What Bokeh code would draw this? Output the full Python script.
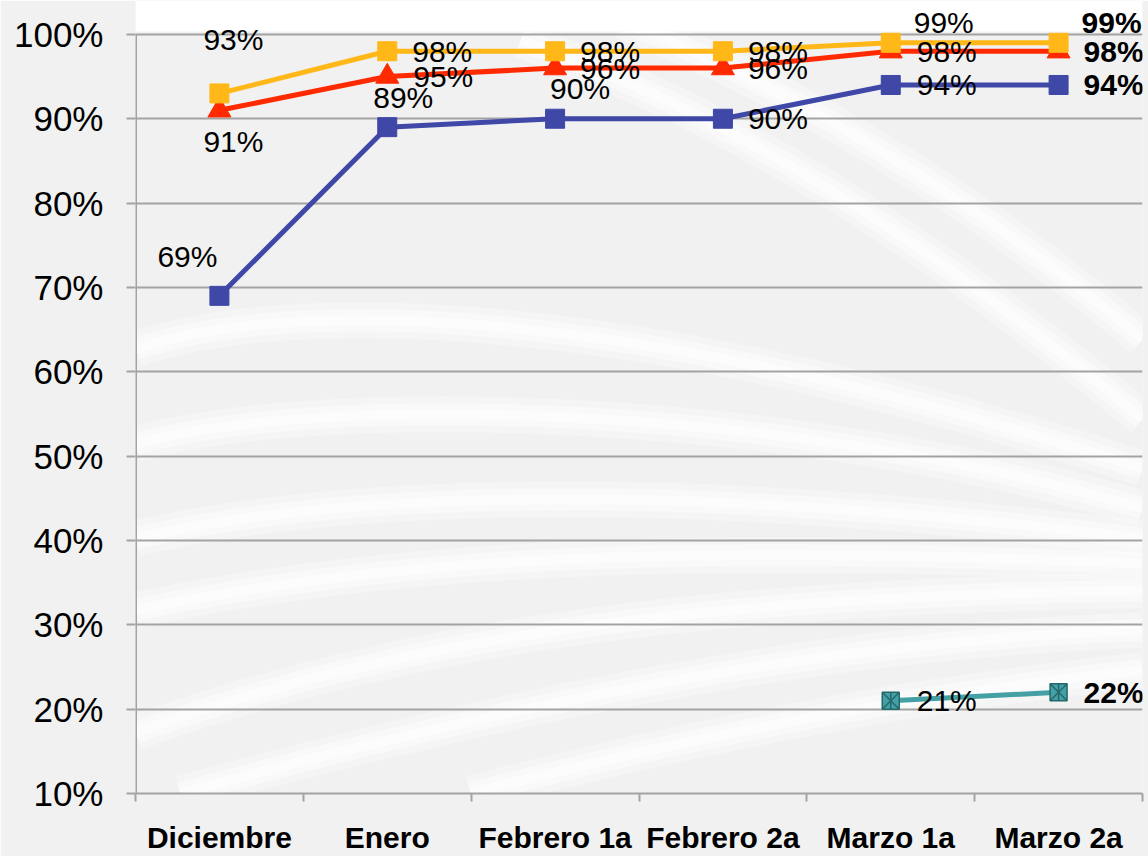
import numpy as np
from bokeh.plotting import figure
from bokeh.models import Range1d, FixedTicker, NumeralTickFormatter, ColumnDataSource, BoxAnnotation
from bokeh.core.properties import value
from bokeh.embed import file_html
from bokeh.resources import INLINE

# ---------------- data ----------------
categories = ["Diciembre", "Enero", "Febrero 1a", "Febrero 2a", "Marzo 1a", "Marzo 2a"]
serie_amarilla = [0.93, 0.98, 0.98, 0.98, 0.99, 0.99]
serie_roja = [0.91, 0.95, 0.96, 0.96, 0.98, 0.98]
serie_azul = [0.69, 0.89, 0.90, 0.90, 0.94, 0.94]
serie_verde = [None, None, None, None, 0.21, 0.22]
y_ticks = [0.1, 0.2, 0.3, 0.4, 0.5, 0.6, 0.7, 0.8, 0.9, 1.0]

# ---------------- styles ----------------
FONT = "Liberation Sans"
GRID = "#a3a3a3"
BG = "#f1f1f1"
C_AMA = "#FFB817"
C_ROJ = "#FF2A00"
C_AZU = "#3F47A7"
C_VER = "#45A0A5"

W, H = 1148, 856
FL, FR, FT, FB = 135, 1142, 0, 796          # frame edges in px
Y100 = 34                                     # px of the 100% gridline

# label placement per point: (dx px, dy px downwards, align)
lab_ama = [(14, -54, "center"), (25, 0, "left"), (25, 0, "left"), (25, 0, "left"), (23, -20, "left"), (23, -20, "left")]
lab_roj = [(14, 31, "center"), (26, 0, "left"), (25, 0, "left"), (25, 0, "left"), (26, 0, "left"), (25, 0, "left")]
lab_azu = [(-32, -39, "center"), (16, -30, "center"), (25, -30, "center"), (25, 0, "left"), (26, 0, "left"), (25, 0, "left")]
lab_ver = [None, None, None, None, (26, 0, "left"), (25, 0, "left")]

# decorative background swooshes (screen px: start, ctrl1, ctrl2, end)
swooshes = [
    ((135, 350), (280, 300), (620, 300), (1142, 470)),
    ((135, 445), (330, 392), (800, 408), (1142, 510)),
    ((135, 540), (400, 478), (800, 498), (1142, 540)),
    ((135, 612), (450, 545), (800, 552), (1142, 565)),
    ((135, 735), (450, 620), (800, 598), (1142, 592)),
    ((180, 796), (600, 680), (900, 640), (1142, 632)),
    ((470, 796), (780, 715), (1000, 688), (1142, 672)),
    ((520, 40), (750, 120), (950, 260), (1142, 420)),
    ((620, 20), (820, 100), (1000, 220), (1142, 340)),
]

n = len(categories)
xs = list(range(n))
y_per_px = (y_ticks[-1] - y_ticks[0]) / (FB - Y100)
y_top = y_ticks[-1] + (Y100 - FT) * y_per_px

p = figure(width=W, height=H, output_backend="svg", toolbar_location=None,
           x_range=Range1d(-0.5, n - 0.5),
           y_range=Range1d(y_ticks[0], y_top),
           min_border_left=FL, min_border_right=W - FR, min_border_top=FT, min_border_bottom=H - FB)
p.outline_line_color = None
p.background_fill_color = BG
p.border_fill_color = BG

def sx(px):
    return -0.5 + (px - FL) * n / (FR - FL)

def sy(py):
    return y_ticks[-1] - (py - Y100) * y_per_px

for (a, b, c, d) in swooshes:
    for lw, al in ((36, 0.28), (22, 0.4), (10, 0.5)):
        p.bezier(x0=[sx(a[0])], y0=[sy(a[1])], cx0=[sx(b[0])], cy0=[sy(b[1])],
                 cx1=[sx(c[0])], cy1=[sy(c[1])], x1=[sx(d[0])], y1=[sy(d[1])],
                 line_color="white", line_width=lw, line_alpha=al, level="image")

# white band at the top of the chart
p.add_layout(BoxAnnotation(bottom=y_ticks[-1] + 3 * y_per_px, fill_color="white", fill_alpha=1.0,
                           line_color=None, level="underlay"))

# y axis
p.yaxis.ticker = FixedTicker(ticks=y_ticks)
p.yaxis.formatter = NumeralTickFormatter(format="0%")
p.yaxis.axis_line_color = None
p.yaxis.major_tick_out = 9
p.yaxis.major_tick_in = 0
p.yaxis.major_tick_line_color = GRID
p.yaxis.major_tick_line_width = 2
p.yaxis.minor_tick_line_color = None
p.yaxis.major_label_text_font = FONT
p.yaxis.major_label_text_font_size = "35px"
p.yaxis.major_label_text_color = "black"
p.yaxis.major_label_standoff = 23

p.ygrid.ticker = FixedTicker(ticks=y_ticks)
p.ygrid.grid_line_color = GRID
p.ygrid.grid_line_width = 2
p.xgrid.grid_line_color = None

# x axis
p.xaxis.ticker = FixedTicker(ticks=xs, minor_ticks=[i - 0.5 for i in range(n + 1)])
p.xaxis.major_label_overrides = {i: c for i, c in enumerate(categories)}
p.xaxis.major_tick_line_color = None
p.xaxis.major_tick_out = 8
p.xaxis.major_tick_in = 0
p.xaxis.minor_tick_line_color = GRID
p.xaxis.minor_tick_line_width = 2
p.xaxis.minor_tick_out = 8
p.xaxis.minor_tick_in = 0
p.xaxis.axis_line_color = GRID
p.xaxis.axis_line_width = 2
p.xaxis.major_label_text_font = FONT
p.xaxis.major_label_text_font_style = "bold"
p.xaxis.major_label_text_font_size = "30px"
p.xaxis.major_label_text_color = "black"
p.xaxis.major_label_standoff = 19

# y axis line (from 10% to 100%)
p.segment(x0=[-0.5], y0=[y_ticks[0]], x1=[-0.5], y1=[y_ticks[-1]], line_color=GRID, line_width=3)

def series(vals, color, marker, size):
    v = np.array([np.nan if a is None else a for a in vals], dtype=float)
    p.line(xs, v, line_color=color, line_width=5)
    ok = ~np.isnan(v)
    xx = np.array(xs)[ok]
    yy = v[ok]
    if marker == "star":
        p.scatter(xx, yy, marker="square_x", size=size, fill_color=color, line_color="#23686c", line_width=1.5)
        p.scatter(xx, yy, marker="dash", size=size, angle=np.pi / 2, line_color="#23686c", line_width=1.5)
    else:
        p.scatter(xx, yy, marker=marker, size=size, fill_color=color, line_color=color)

def labels(vals, lab):
    last = len(vals) - 1
    for bold in (False, True):
        d = dict(x=[], y=[], t=[], dx=[], dy=[], al=[])
        for i, (a, l) in enumerate(zip(vals, lab)):
            if a is None or l is None:
                continue
            if (i == last) != bold:
                continue
            d["x"].append(i); d["y"].append(a); d["t"].append(f"{round(a*100)}%")
            d["dx"].append(l[0]); d["dy"].append(l[1]); d["al"].append(l[2])
        src = ColumnDataSource(d)
        p.text(x="x", y="y", text="t", x_offset="dx", y_offset="dy", text_align="al",
               text_baseline="middle", text_font=value(FONT), text_font_size="30px",
               text_font_style="bold" if bold else "normal", text_color="black", source=src)

series(serie_azul, C_AZU, "square", 19)
series(serie_roja, C_ROJ, "triangle", 23)
series(serie_amarilla, C_AMA, "square", 19)
series(serie_verde, C_VER, "star", 17)

labels(serie_amarilla, lab_ama)
labels(serie_roja, lab_roj)
labels(serie_azul, lab_azu)
labels(serie_verde, lab_ver)

open("out.html", "w").write(file_html(p, INLINE))
